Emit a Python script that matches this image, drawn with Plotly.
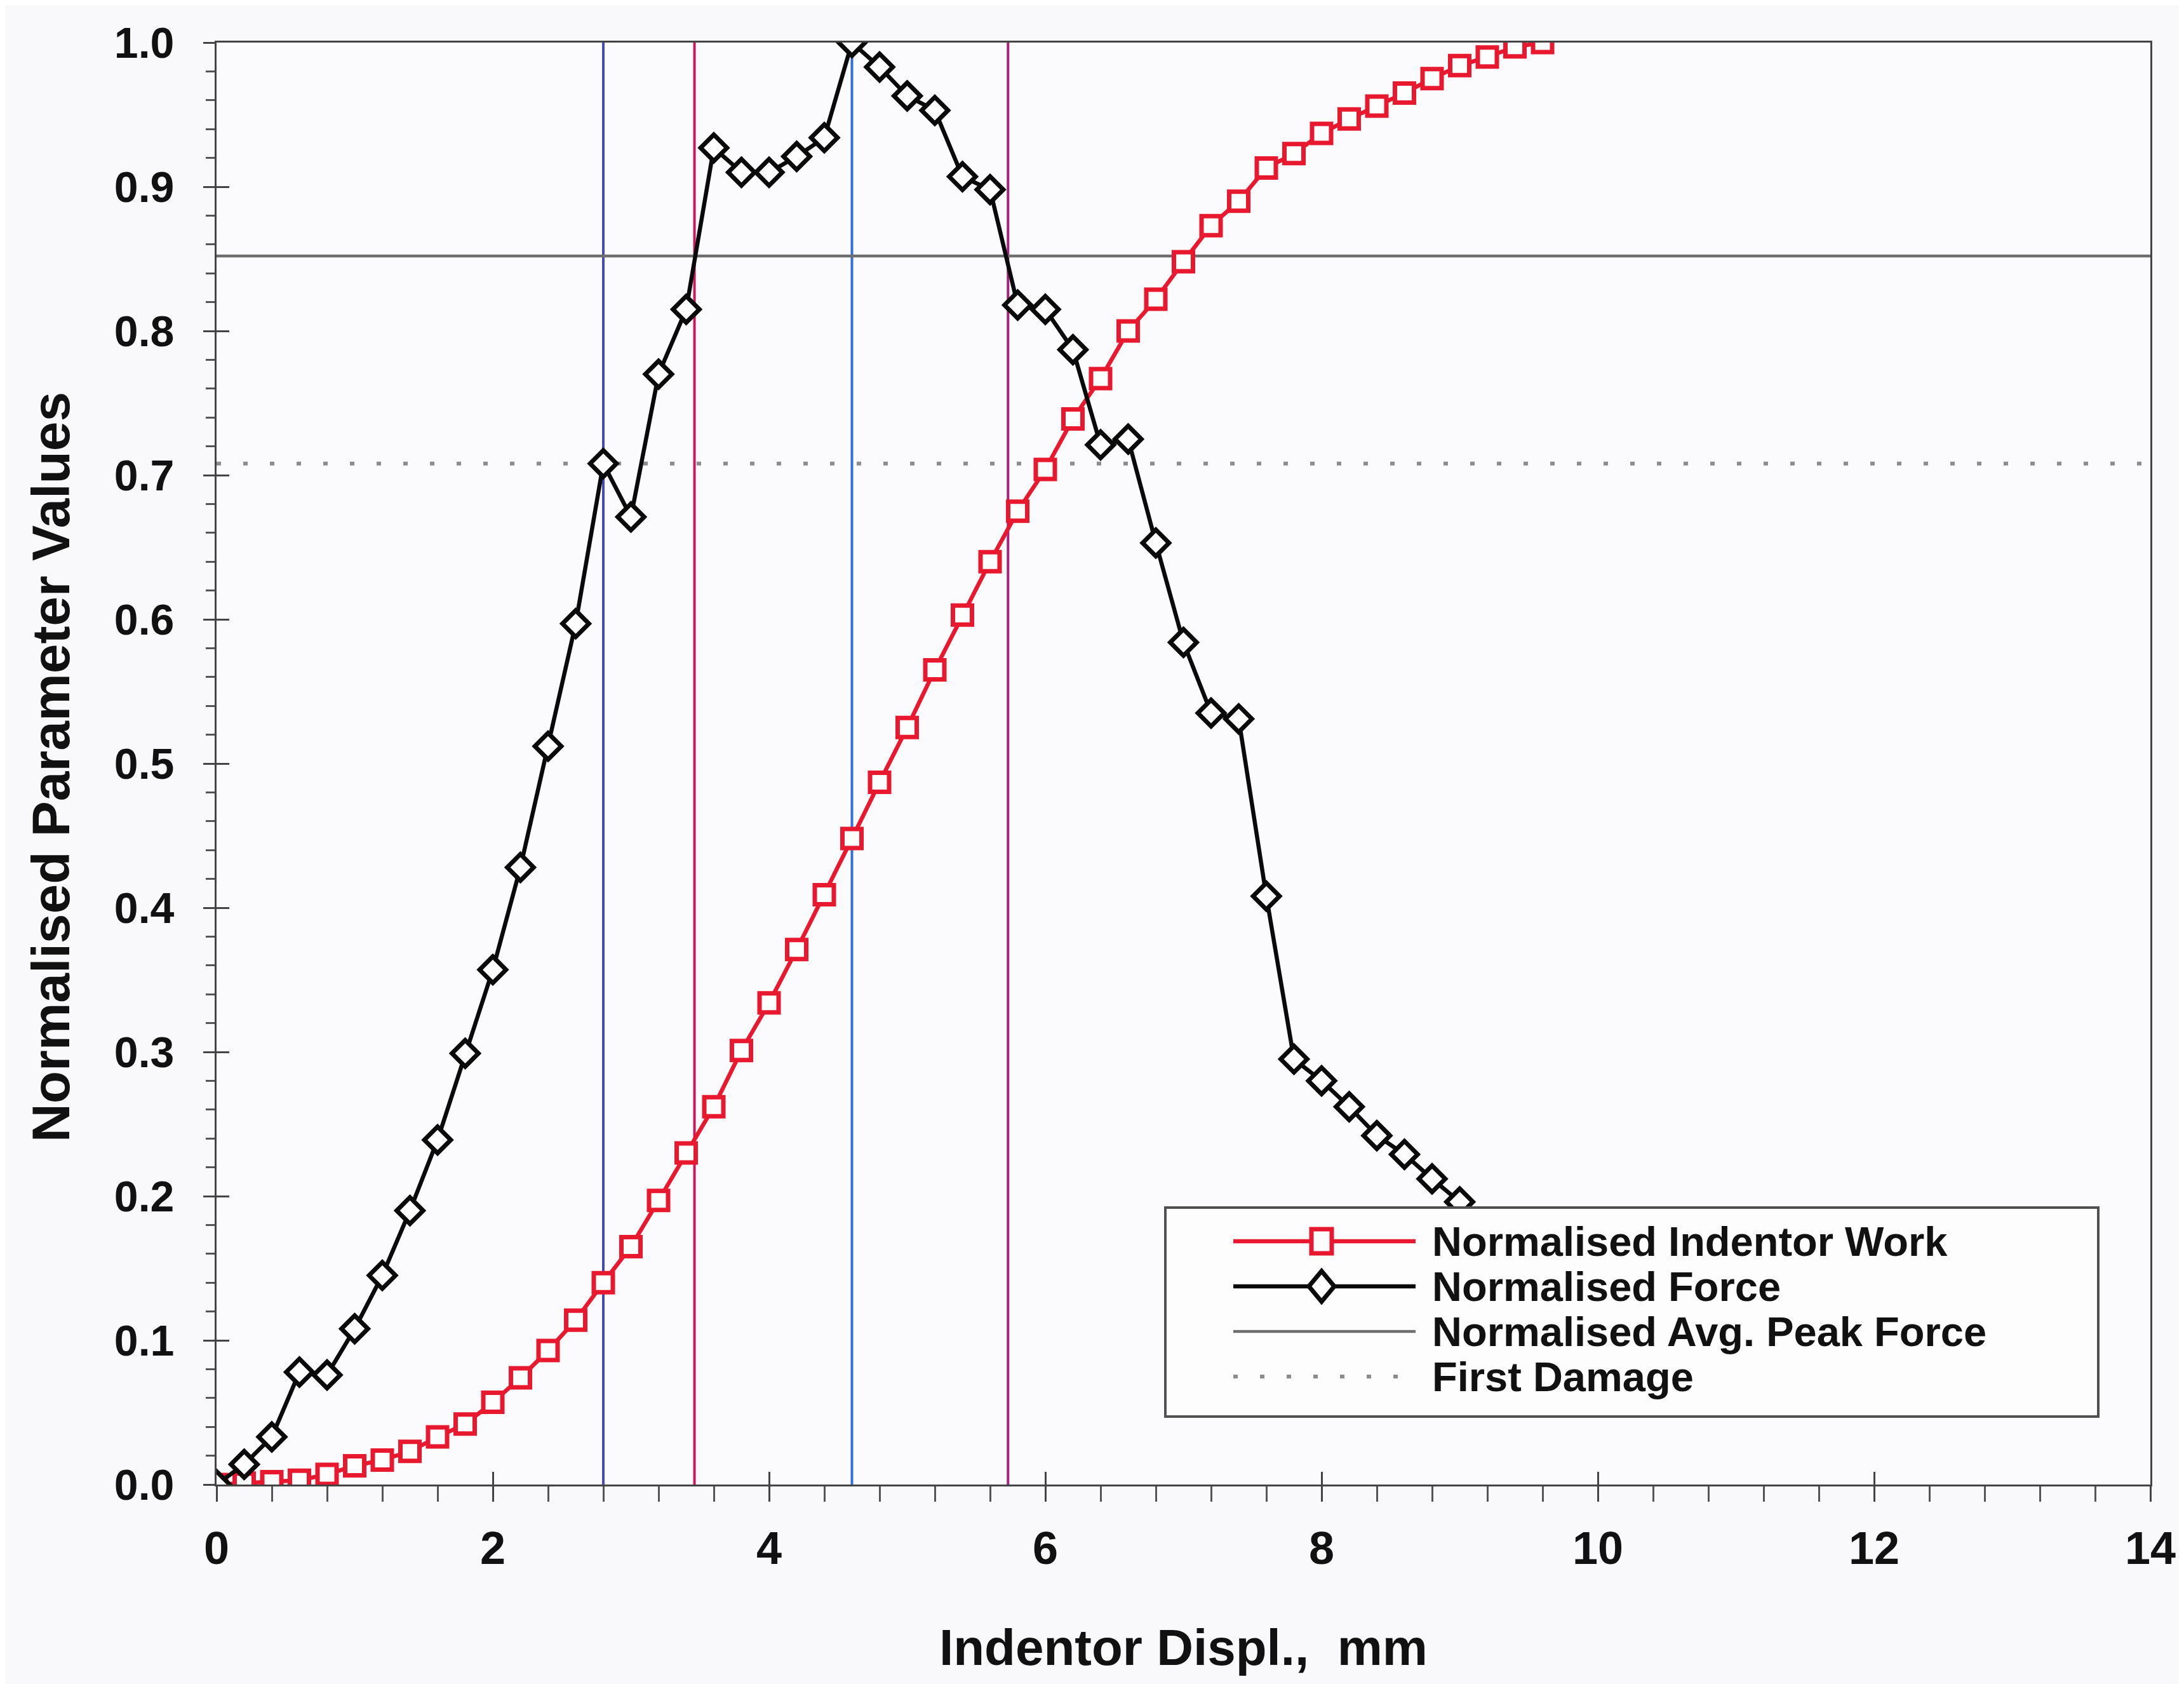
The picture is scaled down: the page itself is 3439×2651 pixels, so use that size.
import plotly.graph_objects as go

# ---------------- data ----------------
displ_force = [0.0, 0.2, 0.4, 0.6, 0.8, 1.0, 1.2, 1.4, 1.6, 1.8, 2.0, 2.2, 2.4, 2.6, 2.8,
               3.0, 3.2, 3.4, 3.6, 3.8, 4.0, 4.2, 4.4, 4.6, 4.8, 5.0, 5.2, 5.4, 5.6, 5.8,
               6.0, 6.2, 6.4, 6.6, 6.8, 7.0, 7.2, 7.4, 7.6, 7.8, 8.0, 8.2, 8.4, 8.6, 8.8,
               9.0, 9.2]
norm_force = [0.000, 0.014, 0.033, 0.078, 0.076, 0.108, 0.145, 0.190, 0.239, 0.299, 0.357,
              0.428, 0.512, 0.597, 0.708, 0.671, 0.770, 0.815, 0.927, 0.910, 0.910, 0.921,
              0.934, 1.000, 0.983, 0.963, 0.953, 0.907, 0.898, 0.818, 0.815, 0.787, 0.721,
              0.725, 0.653, 0.584, 0.535, 0.531, 0.408, 0.295, 0.280, 0.262, 0.242, 0.229,
              0.212, 0.196, 0.178]

displ_work = [0.0, 0.2, 0.4, 0.6, 0.8, 1.0, 1.2, 1.4, 1.6, 1.8, 2.0, 2.2, 2.4, 2.6, 2.8,
              3.0, 3.2, 3.4, 3.6, 3.8, 4.0, 4.2, 4.4, 4.6, 4.8, 5.0, 5.2, 5.4, 5.6, 5.8,
              6.0, 6.2, 6.4, 6.6, 6.8, 7.0, 7.2, 7.4, 7.6, 7.8, 8.0, 8.2, 8.4, 8.6, 8.8,
              9.0, 9.2, 9.4, 9.6]
norm_work = [0.000, 0.001, 0.002, 0.003, 0.007, 0.013, 0.017, 0.023, 0.033, 0.042, 0.057,
             0.074, 0.093, 0.114, 0.140, 0.165, 0.197, 0.230, 0.262, 0.301, 0.334, 0.371,
             0.409, 0.448, 0.487, 0.525, 0.565, 0.603, 0.640, 0.675, 0.704, 0.739, 0.767,
             0.800, 0.822, 0.848, 0.873, 0.890, 0.913, 0.923, 0.937, 0.947, 0.956, 0.965,
             0.975, 0.984, 0.990, 0.997, 1.000]

avg_peak_force = 0.852
first_damage = 0.708
x_span = [0, 14]

blue_lines = [2.8, 4.6]
magenta_lines = [3.46, 5.73]

series_names = ["Normalised Indentor Work", "Normalised Force",
                "Normalised Avg. Peak Force", "First Damage"]

x_tickvals = [0, 2, 4, 6, 8, 10, 12, 14]
y_tickvals = [0.0, 0.1, 0.2, 0.3, 0.4, 0.5, 0.6, 0.7, 0.8, 0.9, 1.0]

# ---------------- layout constants (pixels) ----------------
W, H = 3439, 2651
L, R, T, B = 333, 61, 59, 322
PW, PH = W - L - R, H - T - B

def px(xp, yp):
    return (xp - L) / PW, (H - B - yp) / PH

FONT = "Liberation Sans, Arial, sans-serif"
RED = "#e8182e"
BLACK = "#0a0a0a"
GRAY = "#6e6e6e"
DOTGRAY = "#8c8c8c"
FILL = "#fdfdfe"

fig = go.Figure()

# vertical reference lines
for v, c in zip(blue_lines, ["#4848b8", "#2f6fd6"]):
    fig.add_trace(go.Scatter(x=[v, v], y=[0, 1], mode="lines",
                             line=dict(color=c, width=4), showlegend=False, hoverinfo="skip"))
for v, c in zip(magenta_lines, ["#c8185c", "#a8207c"]):
    fig.add_trace(go.Scatter(x=[v, v], y=[0, 1], mode="lines",
                             line=dict(color=c, width=4), showlegend=False, hoverinfo="skip"))

# horizontal reference lines
fig.add_trace(go.Scatter(x=x_span, y=[avg_peak_force] * 2, mode="lines", name=series_names[2],
                         line=dict(color=GRAY, width=4.5), showlegend=False))
fig.add_trace(go.Scatter(x=x_span, y=[first_damage] * 2, mode="lines", name=series_names[3],
                         line=dict(color=DOTGRAY, width=6, dash="7px,35px"), showlegend=False))

# data series
fig.add_trace(go.Scatter(x=displ_work, y=norm_work, mode="lines+markers", name=series_names[0],
                         line=dict(color=RED, width=6.5),
                         marker=dict(symbol="square", size=30, color=FILL,
                                     line=dict(color=RED, width=7)),
                         showlegend=False))
fig.add_trace(go.Scatter(x=displ_force, y=norm_force, mode="lines+markers", name=series_names[1],
                         line=dict(color=BLACK, width=6.5),
                         marker=dict(symbol="diamond", size=32, color=FILL,
                                     line=dict(color=BLACK, width=7)),
                         showlegend=False))

# overlay axes for the inner half of the crossing major ticks
fig.add_trace(go.Scatter(x=[None], y=[None], xaxis="x2", yaxis="y2", showlegend=False,
                         hoverinfo="skip"))

# ---------------- manual legend ----------------
shapes = []
bx0, by0 = px(1827, 1893)
bx1, by1 = px(3296, 2222)
shapes.append(dict(type="rect", xref="paper", yref="paper", x0=bx0, y0=by1, x1=bx1, y1=by0,
                   fillcolor=FILL, line=dict(color="#505050", width=4), layer="above"))
rows = [1946, 2017, 2088, 2159]
lx0, lx1, mx, tx = 1934, 2221, 2073, 2245
line_styles = [dict(color=RED, width=6.5), dict(color=BLACK, width=6.5),
               dict(color=GRAY, width=4.5), dict(color=DOTGRAY, width=6, dash="7px,35px")]
for ry, ls in zip(rows, line_styles):
    a, yy = px(lx0, ry)
    b, _ = px(lx1, ry)
    shapes.append(dict(type="line", xref="paper", yref="paper", x0=a, x1=b, y0=yy, y1=yy,
                       line=ls, layer="above"))
# square symbol
s0 = px(mx - 16, rows[0] - 19)
s1 = px(mx + 16, rows[0] + 19)
shapes.append(dict(type="rect", xref="paper", yref="paper", x0=s0[0], y0=s1[1], x1=s1[0],
                   y1=s0[1], fillcolor=FILL, line=dict(color=RED, width=7), layer="above"))
# diamond symbol
pts = [px(mx + 20, rows[1]), px(mx, rows[1] - 24), px(mx - 20, rows[1]), px(mx, rows[1] + 24)]
path = "M" + " L".join(f"{p[0]:.5f},{p[1]:.5f}" for p in pts) + " Z"
shapes.append(dict(type="path", xref="paper", yref="paper", path=path, fillcolor=FILL,
                   line=dict(color=BLACK, width=7), layer="above"))

annotations = []
for ry, name in zip(rows, series_names):
    ax, ay = px(tx, ry)
    annotations.append(dict(x=ax, y=ay, xref="paper", yref="paper", text=name, showarrow=False,
                            xanchor="left", yanchor="middle",
                            font=dict(family=FONT, size=65, color="#111", weight="bold")))

# axis titles
ax_, ay_ = px(1855, 2585)
annotations.append(dict(x=ax_, y=ay_, xref="paper", yref="paper", text="Indentor Displ.,\u00a0 mm",
                        showarrow=False, xanchor="center", yanchor="middle",
                        font=dict(family=FONT, size=80, color="#111", weight="bold")))
tx_, ty_ = px(72, 1200)
annotations.append(dict(x=tx_, y=ty_, xref="paper", yref="paper", text="Normalised Parameter Values",
                        showarrow=False, xanchor="center", yanchor="middle", textangle=-90,
                        font=dict(family=FONT, size=84, color="#111", weight="bold")))

axis_common = dict(showgrid=False, zeroline=False)

fig.update_layout(
    width=W, height=H,
    margin=dict(l=L, r=R, t=T, b=B, pad=0),
    paper_bgcolor="#f9f9fb",
    plot_bgcolor="#fbfbfd",
    showlegend=False,
    shapes=shapes,
    annotations=annotations,
    xaxis=dict(range=[0, 14], tickvals=x_tickvals, ticks="outside", ticklen=24, tickwidth=3,
               tickcolor="#444", showline=True, linewidth=3, linecolor="#444", mirror=True,
               tickfont=dict(family=FONT, size=72, color="#111", weight="bold"),
               ticklabelstandoff=12,
               minor=dict(dtick=0.4, ticks="outside", ticklen=24, tickwidth=2.5,
                          tickcolor="#555", showgrid=False),
               **axis_common),
    yaxis=dict(range=[0, 1], tickvals=y_tickvals, tickformat=".1f", ticks="outside", ticklen=18,
               tickwidth=3, tickcolor="#444", showline=True, linewidth=3, linecolor="#444",
               mirror=True,
               tickfont=dict(family=FONT, size=68, color="#111", weight="bold"),
               ticklabelstandoff=32,
               minor=dict(dtick=0.02, ticks="outside", ticklen=14, tickwidth=2.5,
                          tickcolor="#555", showgrid=False),
               **axis_common),
    xaxis2=dict(range=[0, 14], overlaying="x", anchor="y2", tickvals=x_tickvals, ticks="inside",
                ticklen=20, tickwidth=3, tickcolor="#444", showticklabels=False,
                showline=False, **axis_common),
    yaxis2=dict(range=[0, 1], overlaying="y", anchor="x2", tickvals=y_tickvals, ticks="inside",
                ticklen=20, tickwidth=3, tickcolor="#444", showticklabels=False,
                showline=False, **axis_common),
)

fig.write_html("out.html")
